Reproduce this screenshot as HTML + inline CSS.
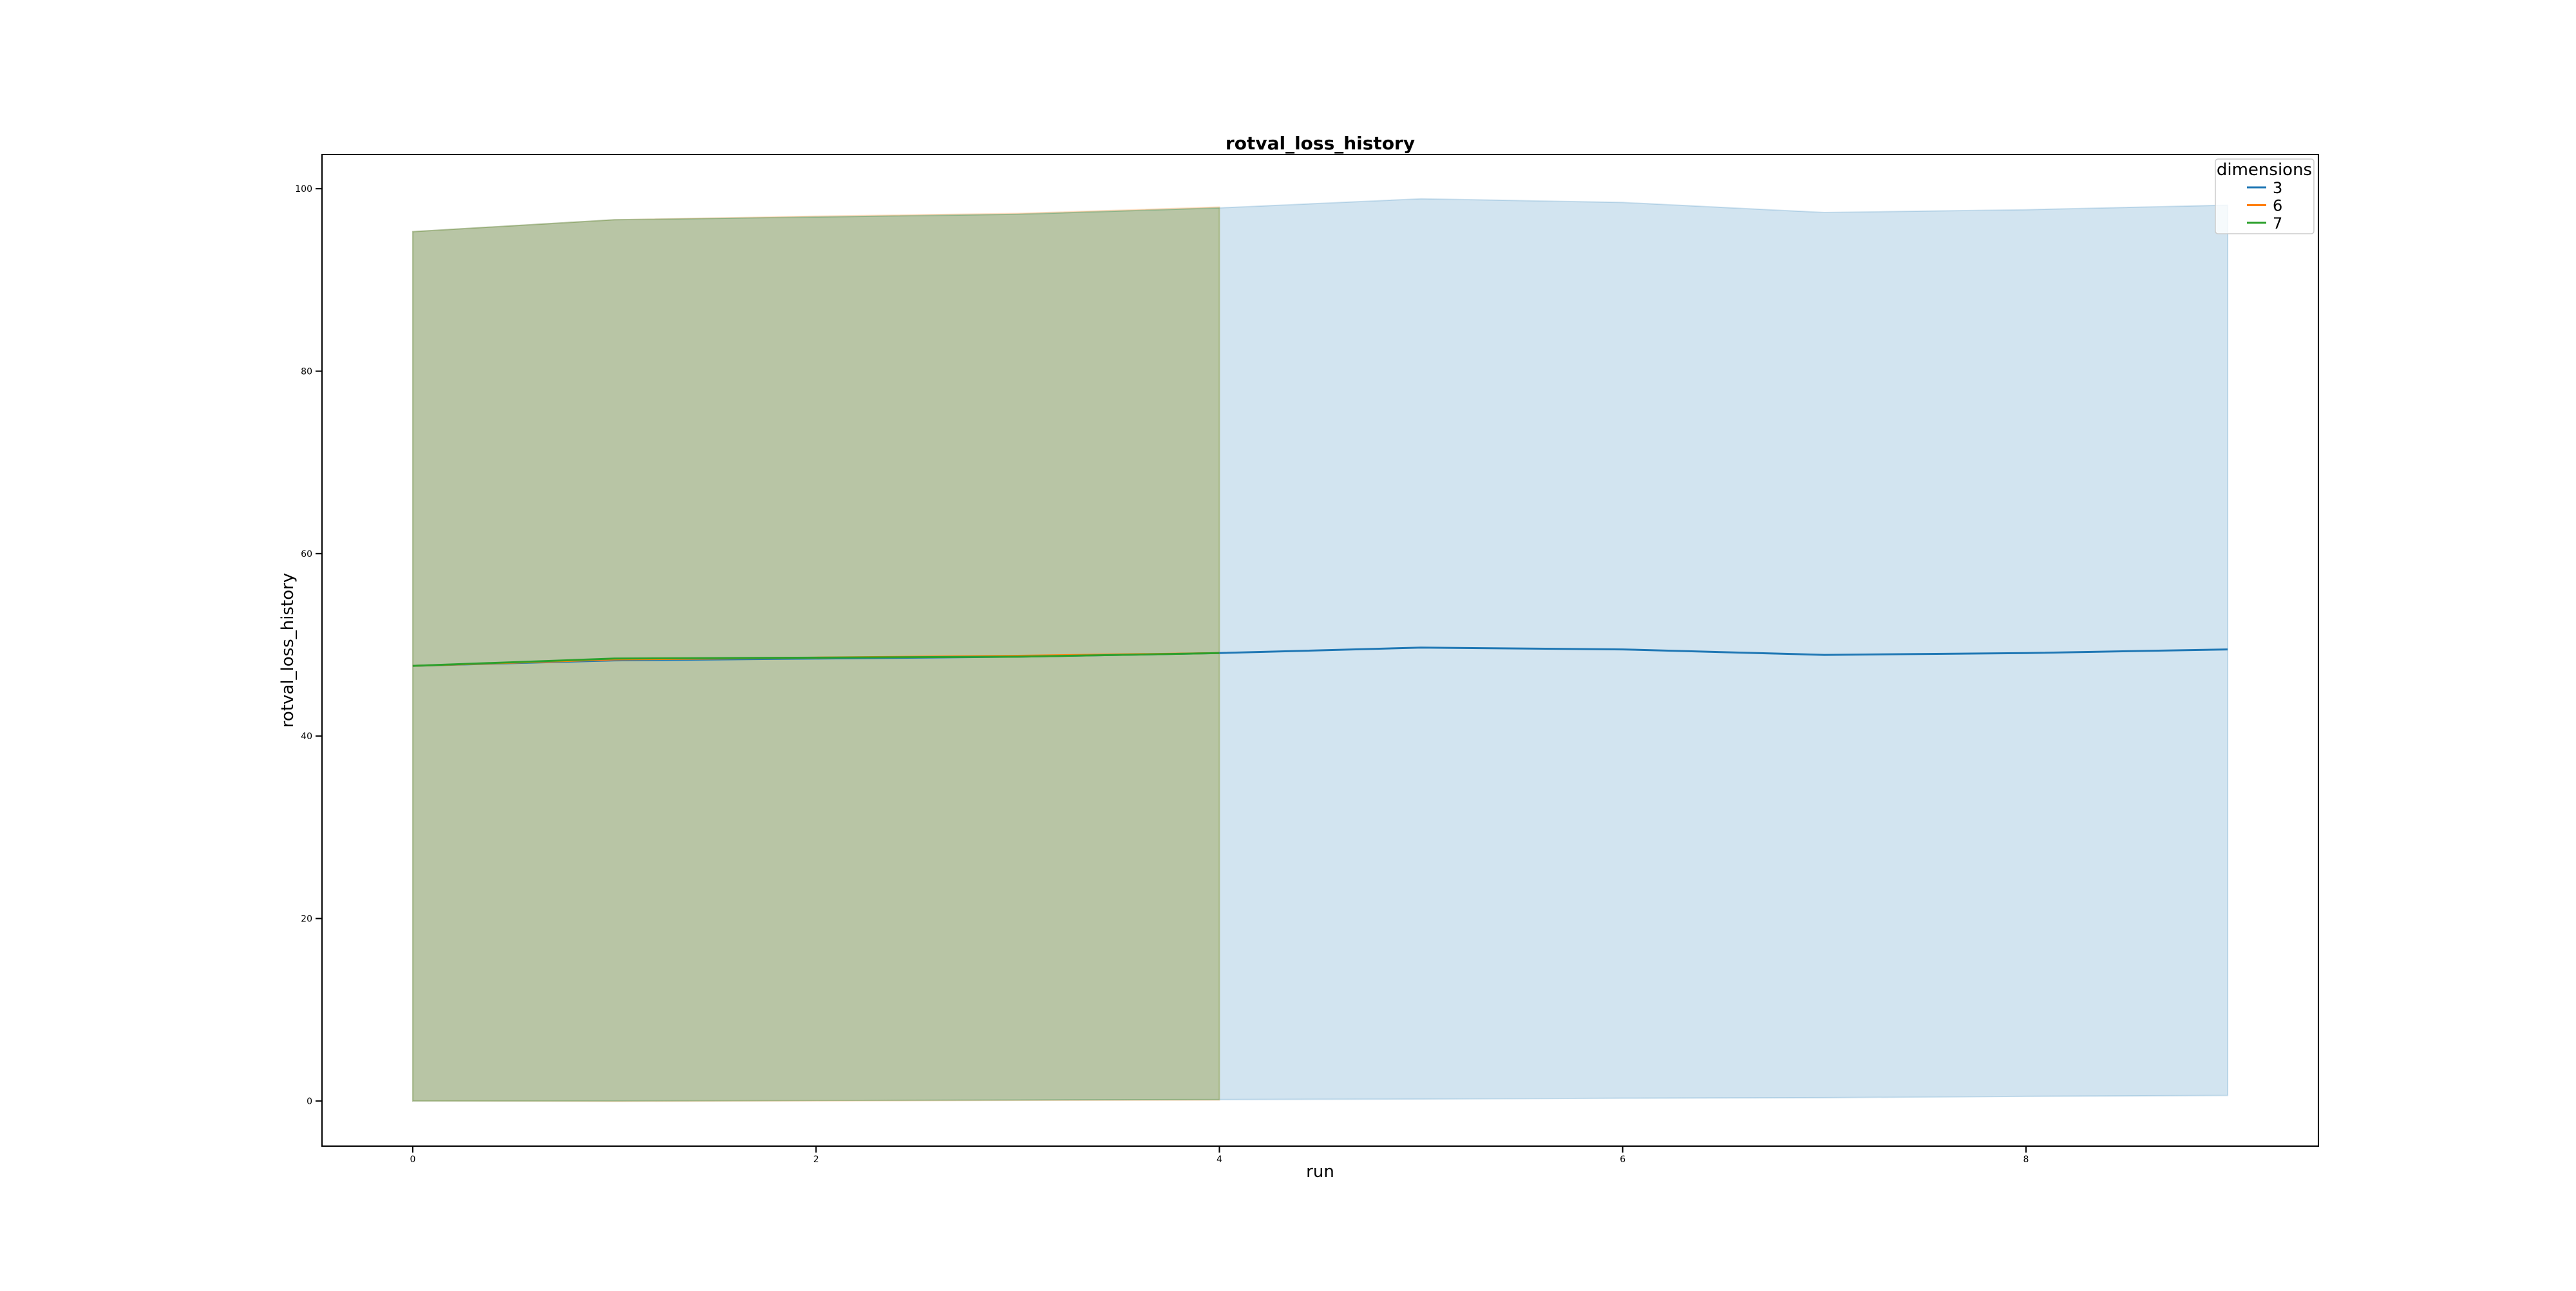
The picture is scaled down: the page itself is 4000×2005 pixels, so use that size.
<!DOCTYPE html>
<html><head><meta charset="utf-8"><style>
body{margin:0;background:#fff;}
svg text{font-family:"DejaVu Sans","Liberation Sans",sans-serif;}
</style></head><body>
<svg id="chart" width="4000" height="2000" xmlns="http://www.w3.org/2000/svg">
<rect width="4000" height="2000" fill="#fff"/>
<g id="plot"></g>
</svg>
<script>
const runs = [0,1,2,3,4,5,6,7,8,9];
const mean3 = [47.7,48.3,48.5,48.7,49.1,49.7,49.5,48.9,49.1,49.5];
const upper3 = [95.3,96.6,96.9,97.2,97.9,98.9,98.5,97.4,97.7,98.2];
const lower3 = [0.0,0.0,0.05,0.1,0.15,0.2,0.3,0.35,0.5,0.6];
const runs6 = [0,1,2,3,4];
const mean6 = [47.7,48.4,48.6,48.8,49.1];
const upper6 = [95.3,96.6,97.0,97.3,98.0];
const lower6 = [0.0,-0.05,0.0,0.05,0.1];
const runs7 = [0,1,2,3,4];
const mean7 = [47.7,48.5,48.6,48.7,49.1];
const upper7 = [95.3,96.6,96.9,97.2,97.9];
const lower7 = [0.0,0.0,0.05,0.1,0.15];
const xTicks = [0,2,4,6,8];
const yTicks = [0,20,40,60,80,100];
const legendLabels = ['3','6','7'];
const colors = ['#1f77b4','#ff7f0e','#2ca02c'];

const L=500,R=3600,T=240,B=1780;
const xMin=-0.45,xMax=9.45,yMin=-4.95,yMax=103.75;
const X=v=>L+(v-xMin)/(xMax-xMin)*(R-L);
const Y=v=>B-(v-yMin)/(yMax-yMin)*(B-T);
const NS='http://www.w3.org/2000/svg';
const g=document.getElementById('plot');
function mk(tag,attrs,parent){const e=document.createElementNS(NS,tag);for(const k in attrs)e.setAttribute(k,attrs[k]);(parent||g).appendChild(e);return e;}

const series=[[runs,mean3,upper3,lower3],[runs6,mean6,upper6,lower6],[runs7,mean7,upper7,lower7]];
series.forEach((s,i)=>{
  const [xs,m,u,l]=s;
  let d='M'+xs.map((x,j)=>X(x)+','+Y(u[j])).join('L');
  for(let j=xs.length-1;j>=0;j--) d+='L'+X(xs[j])+','+Y(l[j]);
  const band=mk('path',{d:d+'Z',fill:colors[i],'fill-opacity':0.2,stroke:colors[i],'stroke-opacity':0.2,'stroke-width':2});
  
  
});
series.forEach((s,i)=>{
  const [xs,m]=s;
  const line=mk('polyline',{points:xs.map((x,j)=>X(x)+','+Y(m[j])).join(' '),fill:'none',stroke:colors[i],'stroke-width':3});
  
  
});
const frame=mk('rect',{x:L,y:T,width:R-L,height:B-T,fill:'none',stroke:'#000','stroke-width':2});


xTicks.forEach(t=>{
  mk('line',{x1:X(t),x2:X(t),y1:B,y2:B+10,stroke:'#000','stroke-width':2});
  const tx=mk('text',{x:X(t),y:B+25,'font-size':14,'text-anchor':'middle'});
  tx.textContent=t;
  
  
});
yTicks.forEach(t=>{
  mk('line',{x1:L-10,x2:L,y1:Y(t),y2:Y(t),stroke:'#000','stroke-width':2});
  const tx=mk('text',{x:L-15,y:Y(t)+5,'font-size':14,'text-anchor':'end'});
  tx.textContent=t;
  
  
});
const title=mk('text',{x:2050,y:232,'font-size':28,'font-weight':'bold','text-anchor':'middle'});
title.textContent='rotval_loss_history';


const xl=mk('text',{x:2050,y:1828,'font-size':26,'text-anchor':'middle'});
xl.textContent='run';


const yl=mk('text',{x:0,y:0,'font-size':26,'text-anchor':'middle',transform:'translate(455,1010) rotate(-90)'});
yl.textContent='rotval_loss_history';


const lg=mk('g',{});


mk('rect',{x:3440,y:247,width:153,height:116,rx:4,fill:'#fff','fill-opacity':0.8,stroke:'#ccc','stroke-width':1.5},lg);
const lt=mk('text',{x:3516,y:272,'font-size':26,'text-anchor':'middle'},lg);
lt.textContent='dimensions';


legendLabels.forEach((lab,i)=>{
  const y=291+i*27.5;
  mk('line',{x1:3489,x2:3519,y1:y,y2:y,stroke:colors[i],'stroke-width':3},lg);
  const t=mk('text',{x:3529,y:y+9,'font-size':24},lg);
  t.textContent=lab;
  
  
});
</script>
</body></html>
